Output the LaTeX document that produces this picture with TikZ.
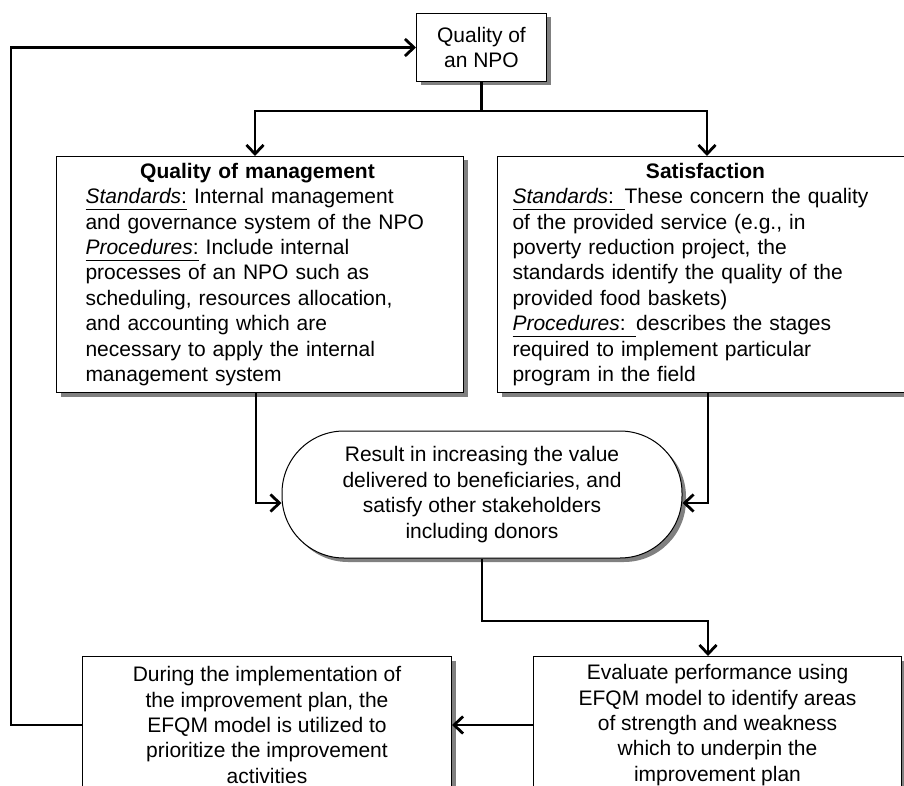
\documentclass[tikz,border=0pt]{standalone}
\usepackage{fontspec}
\setmainfont{Liberation Sans}
\usetikzlibrary{shadows,arrows.meta,calc}
\newsavebox\ulbox
\newcommand\myul[1]{\leavevmode\sbox\ulbox{#1}\rlap{\rule[-6.5pt]{\wd\ulbox}{1.3pt}}\usebox\ulbox}
\tikzset{
  txt/.style={font=\fontsize{21pt}{25.4pt}\selectfont},
  boxbase/.style={draw=black, line width=1pt, fill=white, txt, anchor=north west,
    drop shadow={shadow xshift=4pt, shadow yshift=-4pt, fill=black!50, opacity=1}},
  conn/.style={line width=2.8pt, line join=miter, >={Straight Barb[length=9pt,width=17pt]}},
}
\begin{document}
\begin{tikzpicture}[x=1pt,y=-1pt]
\useasboundingbox (0,0) rectangle (904,786);
\clip (0,0) rectangle (904,786);

% nodes
\node[boxbase, minimum width=130pt, minimum height=68pt, inner sep=0pt, align=center]
  (top) at (416,13) {Quality of\\an NPO};

\node[boxbase, inner xsep=29pt, inner ysep=0pt, text width=349pt, minimum height=236pt, align=left]
  (lbox) at (56,156) {\makebox[349pt]{\bfseries Quality of management\hspace{5pt}}\\
\myul{\textit{Standards}:} Internal management\\
and governance system of the NPO\\
\myul{\textit{Procedures}:} Include internal\\
processes of an NPO such as\\
scheduling, resources allocation,\\
and accounting which are\\
necessary to apply the internal\\
management system};

\node[boxbase, inner xsep=15pt, inner ysep=0pt, text width=378pt, minimum height=236pt, align=left]
  (rbox) at (497,156) {\makebox[378pt]{\hspace{8pt}\bfseries Satisfaction}\\
\myul{\textit{Standards}: }These concern the quality\\
of the provided service (e.g., in\\
poverty reduction project, the\\
standards identify the quality of the\\
provided food baskets)\\
\myul{\textit{Procedures}: }describes the stages\\
required to implement particular\\
program in the field};

\node[boxbase, anchor=center, rounded corners=62pt, minimum width=400pt, minimum height=127pt,
  inner sep=0pt, align=center]
  (oval) at (482,494.5) {Result in increasing the value\\delivered to beneficiaries, and\\satisfy other stakeholders\\including donors};

\node[boxbase, minimum width=369pt, minimum height=137pt, inner sep=0pt, align=center]
  (bl) at (82,656) {During the implementation of\\the improvement plan, the\\EFQM model is utilized to\\prioritize the improvement\\activities};

\node[boxbase, minimum width=368pt, minimum height=137pt, inner sep=0pt, align=center]
  (br) at (533,656) {Evaluate performance using\\EFQM model to identify areas\\of strength and weakness\\which to underpin the\\improvement plan};

% helper coordinates
\coordinate (la) at (255,111);
\coordinate (ra) at (707,111);
\coordinate (lj) at (256,503);
\coordinate (rj) at (708,503);
\coordinate (bj) at (708,621);
\coordinate (lx) at (11,0);

% connectors
\draw[conn] (top.south) -- (top.south |- la);
\draw[conn,<->] (la |- lbox.north) -- (la) -- (ra) -- (ra |- rbox.north);
\draw[conn,->] (lbox.south -| lj) -- (lj) -- (oval.west |- lj);
\draw[conn,->] (rbox.south -| rj) -- (rj) -- (oval.east |- rj);
\draw[conn,->] (oval.south) |- (bj) -- (bj |- br.north);
\draw[conn,->] (br.west) -- (bl.east);
\draw[conn,->] (bl.west) -- (bl.west -| lx) |- (top.west);
\end{tikzpicture}
\end{document}
